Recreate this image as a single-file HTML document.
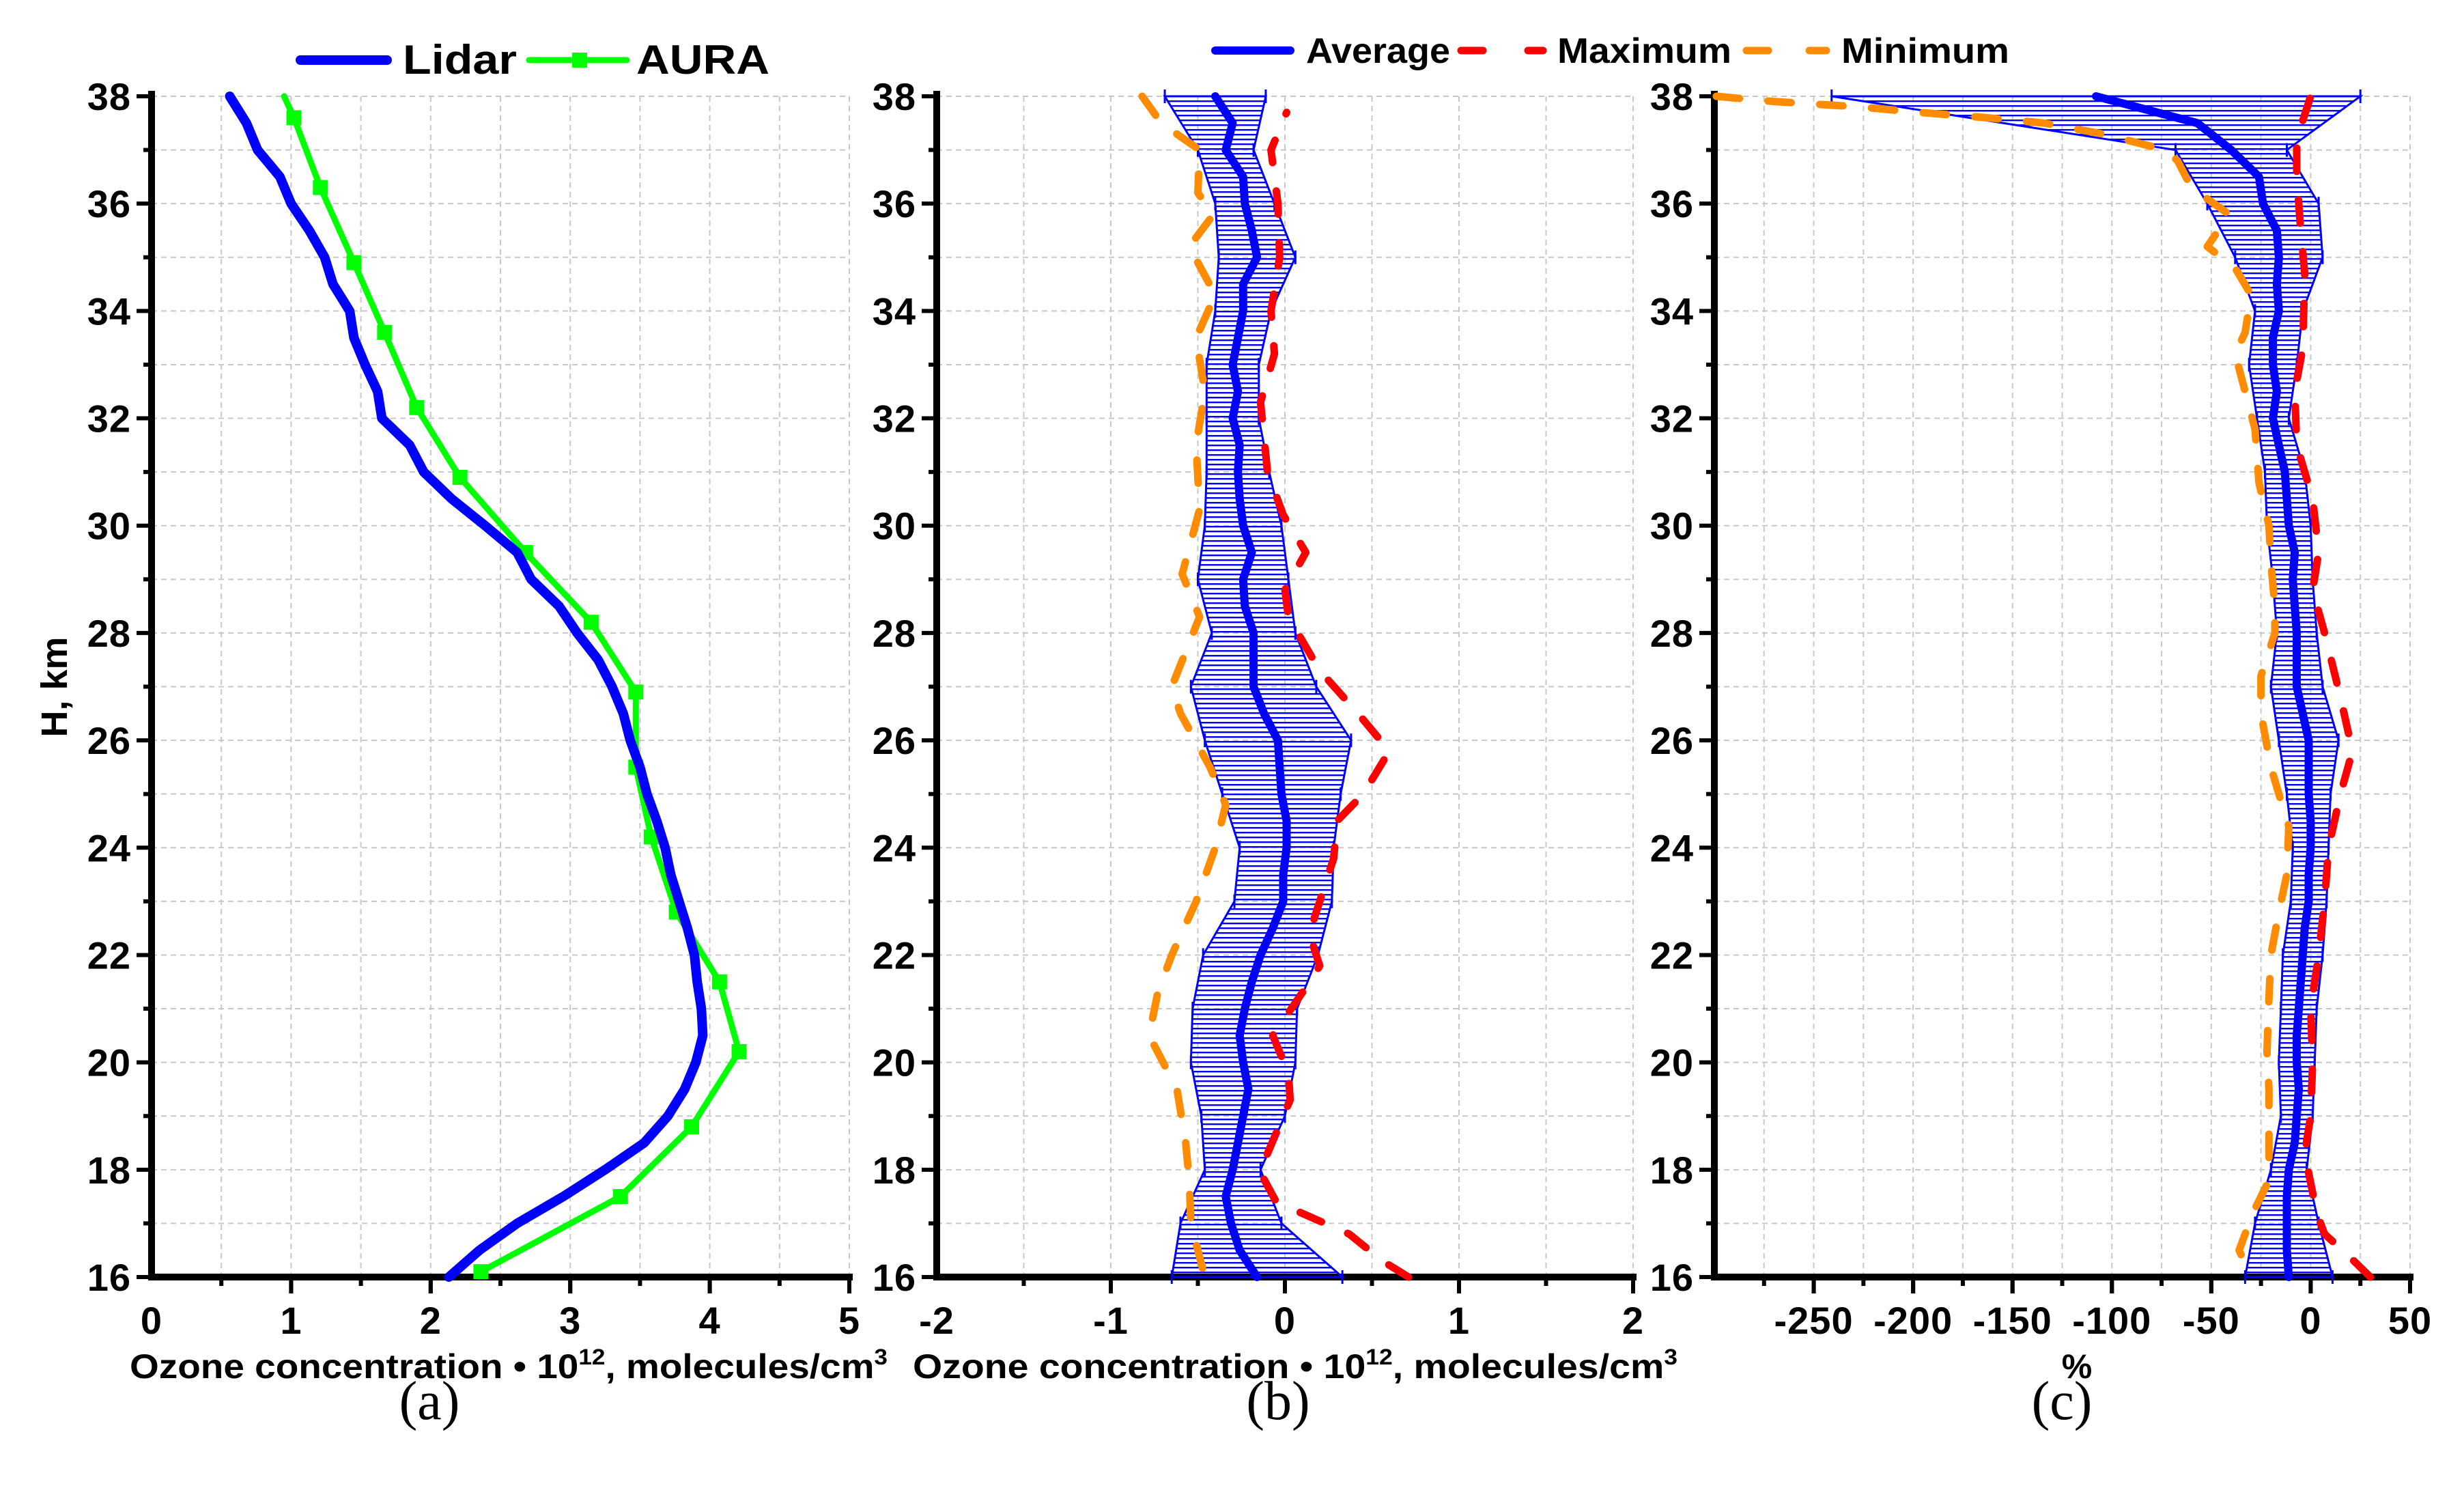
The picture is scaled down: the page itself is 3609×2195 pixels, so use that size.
<!DOCTYPE html>
<html><head><meta charset="utf-8"><style>
html,body{margin:0;padding:0;background:#fff;}
svg{display:block;font-family:"Liberation Sans","DejaVu Sans",sans-serif;}
</style></head><body>
<svg id="fig" width="3609" height="2195" viewBox="0 0 3609 2195" xmlns="http://www.w3.org/2000/svg">
<defs>
<pattern id="hatch" patternUnits="userSpaceOnUse" width="20" height="7"><rect x="0" y="0" width="20" height="2.4" fill="#0000ff"/></pattern>
</defs>
<g id="root"></g>
</svg>
<script>
// ---- data ----
const heights = [38,37.5,37,36.5,36,35.5,35,34.5,34,33.5,33,32.5,32,31.5,31,30.5,30,29.5,29,28.5,28,27.5,27,26.5,26,25.5,25,24.5,24,23.5,23,22.5,22,21.5,21,20.5,20,19.5,19,18.5,18,17.5,17,16.5,16];
const stdHeights = [38,37,36,35,34,33,32,31,30,29,28,27,26,25,24,23,22,21,20,19,18,17,16];
const lidarValues = [0.56,0.68,0.76,0.92,1.0,1.13,1.24,1.3,1.42,1.45,1.53,1.62,1.65,1.85,1.95,2.15,2.39,2.62,2.72,2.92,3.05,3.2,3.3,3.38,3.43,3.5,3.55,3.62,3.68,3.72,3.78,3.84,3.89,3.91,3.94,3.95,3.9,3.82,3.7,3.53,3.25,2.95,2.62,2.35,2.13];
const auraHeights = [38,37.6,36.3,34.9,33.6,32.2,30.9,29.5,28.2,26.9,25.5,24.2,22.8,21.5,20.2,18.8,17.5,16.1];
const auraValues = [0.95,1.02,1.21,1.45,1.67,1.9,2.21,2.68,3.15,3.47,3.47,3.58,3.76,4.07,4.21,3.87,3.36,2.36];
const avgB = [-0.40,-0.30,-0.34,-0.24,-0.23,-0.19,-0.16,-0.24,-0.24,-0.27,-0.30,-0.27,-0.30,-0.26,-0.27,-0.26,-0.24,-0.19,-0.24,-0.23,-0.18,-0.18,-0.18,-0.12,-0.04,-0.03,-0.02,0.01,0.01,-0.01,-0.01,-0.07,-0.14,-0.19,-0.23,-0.26,-0.24,-0.21,-0.24,-0.27,-0.30,-0.34,-0.31,-0.26,-0.16];
const stdB = [0.29,0.16,0.17,0.22,0.16,0.15,0.15,0.18,0.22,0.26,0.24,0.36,0.42,0.34,0.27,0.28,0.33,0.30,0.30,0.24,0.16,0.29,0.49];
const maxBHeights = [16,16.3,16.8,17.4,18,18.3,19.3,19.8,20.5,21.3,21.8,22.4,23,23.8,24.5,25,25.8,26.5,27.3,28.3,28.8,29.5,30.2,31,32.3,33.2,34,35,36,37,37.7];
const maxBValues = [0.71,0.56,0.37,-0.05,-0.15,-0.1,0.03,0.02,-0.07,0.1,0.2,0.14,0.2,0.28,0.3,0.45,0.6,0.42,0.2,0.02,0.0,0.12,-0.01,-0.1,-0.14,-0.06,-0.08,-0.03,-0.04,-0.08,0.01];
const minBHeights = [38,37.5,37,36.2,35.8,35.2,34.3,33.5,32.5,31.5,30.3,29.1,28.3,27,26.5,25.5,24.8,24,23,22,21.3,20.5,19.5,18.5,17.8,17,16];
const minBValues = [-0.82,-0.71,-0.49,-0.5,-0.41,-0.55,-0.4,-0.51,-0.46,-0.51,-0.49,-0.59,-0.49,-0.65,-0.6,-0.43,-0.34,-0.4,-0.51,-0.65,-0.73,-0.78,-0.62,-0.57,-0.55,-0.54,-0.46];
const avgC = [-108,-57,-40,-26,-24,-17,-16,-17,-16,-19,-19,-17,-19,-16,-13,-12,-11,-8,-9,-8,-7,-7,-7,-4,-1,-1,-1,0,0,-1,-1,-3,-4,-5,-6,-7,-7,-6,-7,-8,-11,-12,-12,-12,-11];
const stdC = [133,28,28,22,12,12,8,10,11,10,10,13,15,11,9,9,10,9,9,8,9,16,22];
const maxCHeights = [16,16.4,16.8,17.2,18.3,19,20,21,22,23,24,25,25.8,26.8,28,28.8,29.5,30.5,31.5,32.5,33.3,34.7,35.5,36.5,37.2,38];
const maxCValues = [30,19,7,3,-3,0,1,0,4,7,9,15,21,15,7,1,4,1,-7,-8,-4,-3,-5,-7,-7,0];
const minCHeights = [38,37.9,37.8,37.7,37.6,37.5,37.3,37,36.8,36.3,35.8,35.2,34.8,34.3,33.6,33.2,32.5,31.8,30.8,30,29.3,28.5,28,27.2,26.5,25.5,25,24.4,23.5,22.8,22,21.2,20.2,19.5,18.5,17.8,17.2,16.5,16];
const minCValues = [-299,-269,-226,-197,-163,-134,-105,-73,-67,-60,-41,-52,-38,-30,-33,-38,-33,-28,-26,-21,-20,-18,-18,-25,-25,-20,-16,-11,-12,-16,-20,-21,-22,-21,-21,-21,-29,-36,-30];
const yTickLabels = ["16","18","20","22","24","26","28","30","32","34","36","38"];
const xTicksA = ["0","1","2","3","4","5"];
const xTicksB = ["-2","-1","0","1","2"];
const xTicksC = ["-250","-200","-150","-100","-50","0","50"];

// ---- layout ----
const NS = "http://www.w3.org/2000/svg";
const root = document.getElementById('root');
const Y38 = 141, Y16 = 1870;
function yS(h){ return Y38 + (38 - h) / 22 * (Y16 - Y38); }
const P = {
  a:{x0:222,x1:1244,xmin:0,xmax:5,minorStep:0.5},
  b:{x0:1372,x1:2392,xmin:-2,xmax:2,minorStep:0.5},
  c:{x0:2511,x1:3530,xmin:-300,xmax:50,minorStep:25}
};
function xS(p,v){ return p.x0 + (v - p.xmin) / (p.xmax - p.xmin) * (p.x1 - p.x0); }
function el(tag, attrs, parent){
  const e = document.createElementNS(NS, tag);
  for (const k in attrs) e.setAttribute(k, attrs[k]);
  (parent || root).appendChild(e);
  return e;
}
function txt(s, attrs, parent){ const t = el('text', attrs, parent); t.textContent = s; return t; }
function pathFrom(p, hs, vs){
  return hs.map((h,i)=> (i?'L':'M') + xS(p,vs[i]).toFixed(1) + ',' + yS(h).toFixed(1)).join(' ');
}

function drawFrame(key, xLabels, name){
  const p = P[key];
  const g = el('g', {});
  
  
  for (let v = p.xmin + p.minorStep; v < p.xmax + 1e-9; v += p.minorStep) {
    const x = xS(p, v);
    const l = el('line', {x1:x, x2:x, y1:Y38, y2:Y16, stroke:'#c8c8c8', 'stroke-width':2, 'stroke-dasharray':'8 6'}, g);
    
    
  }
  for (let h = 17; h <= 38; h++) {
    const y = yS(h);
    const l = el('line', {x1:p.x0, x2:p.x1, y1:y, y2:y, stroke:'#c8c8c8', 'stroke-width':2, 'stroke-dasharray':'8 6'}, g);
    
    
  }
  for (let h = 16; h <= 38; h++) {
    const y = yS(h);
    const major = h % 2 === 0;
    el('line', {x1:p.x0 - (major ? 22 : 12), x2:p.x0, y1:y, y2:y, stroke:'#000', 'stroke-width':6}, g);
  }
  yTickLabels.forEach((s)=>{
    const t = txt(s, {x:p.x0 - 30, y:yS(+s) + 20, 'text-anchor':'end', 'font-size':56, 'font-weight':'bold', 'letter-spacing':1}, g);
    
    
  });
  for (let v = p.xmin + p.minorStep; v < p.xmax + 1e-9; v += p.minorStep) {
    const x = xS(p, v);
    const isMajor = xLabels.indexOf(String(Math.round(v*1000)/1000)) >= 0;
    el('line', {x1:x, x2:x, y1:Y16, y2:Y16 + (isMajor ? 24 : 13), stroke:'#000', 'stroke-width':6}, g);
  }
  xLabels.forEach((s)=>{
    const x = xS(p, +s);
    if (+s !== p.xmin) el('line', {x1:x, x2:x, y1:Y16, y2:Y16 + 24, stroke:'#000', 'stroke-width':6}, g);
    const t = txt(s, {x:x, y:1953, 'text-anchor':'middle', 'font-size':56, 'font-weight':'bold', 'letter-spacing':1}, g);
    
    
  });
  const ax = el('path', {d:`M${p.x0},${Y38-3} L${p.x0},${Y16} L${p.x1},${Y16}`, fill:'none', stroke:'#000', 'stroke-width':10, 'stroke-linecap':'square'}, g);
  
  
  return g;
}

function drawBand(p, avg, std, name){
  const left = [], right = [];
  stdHeights.forEach((h,i)=>{
    const a = avg[heights.indexOf(h)];
    left.push(xS(p, a - std[i]).toFixed(1) + ',' + yS(h).toFixed(1));
    right.push(xS(p, a + std[i]).toFixed(1) + ',' + yS(h).toFixed(1));
  });
  const pts = left.concat(right.reverse()).join(' ');
  const poly = el('polygon', {points:pts, fill:'url(#hatch)', stroke:'#0000ff', 'stroke-width':3});
  
  
  stdHeights.forEach((h,i)=>{
    const a = avg[heights.indexOf(h)];
    const y = yS(h);
    [a - std[i], a + std[i]].forEach(v=>{
      const c = el('line', {x1:xS(p,v), x2:xS(p,v), y1:y-10, y2:y+10, stroke:'#0000ff', 'stroke-width':3});
      
      
    });
  });
}

function line(p, hs, vs, color, width, dash, name){
  const attrs = {d:pathFrom(p, hs, vs), fill:'none', stroke:color, 'stroke-width':width, 'stroke-linejoin':'round', 'stroke-linecap':'round'};
  if (dash) attrs['stroke-dasharray'] = dash;
  const e = el('path', attrs);
  
  
  return e;
}

// ---- Panel a ----
drawFrame('a', xTicksA, 'panel-a');
line(P.a, auraHeights, auraValues, '#00ff00', 9, null, 'aura-line');
auraHeights.forEach((h,i)=>{
  if (i === 0) return;
  const m = el('rect', {x:xS(P.a, auraValues[i]) - 11, y:yS(h) - 11, width:22, height:22, fill:'#00ff00'});
  
  
});
line(P.a, heights, lidarValues, '#0000ff', 14, null, 'lidar-line');

// ---- Panel b ----
drawFrame('b', xTicksB, 'panel-b');
drawBand(P.b, avgB, stdB, 'error-band-b');
line(P.b, maxBHeights, maxBValues, '#ff0000', 11, '34 42', 'maximum-line-b');
line(P.b, minBHeights, minBValues, '#ff8c00', 11, '34 42', 'minimum-line-b');
line(P.b, heights, avgB, '#0000ff', 12, null, 'average-line-b');

// ---- Panel c ----
drawFrame('c', xTicksC, 'panel-c');
drawBand(P.c, avgC, stdC, 'error-band-c');
line(P.c, maxCHeights, maxCValues, '#ff0000', 11, '34 42', 'maximum-line-c');
line(P.c, minCHeights, minCValues, '#ff8c00', 11, '34 42', 'minimum-line-c');
line(P.c, heights, avgC, '#0000ff', 12, null, 'average-line-c');

// ---- titles ----
let t;
t = txt('H, km', {x:0, y:0, transform:'translate(98,1006) rotate(-90)', 'text-anchor':'middle', 'font-size':54, 'font-weight':'bold'});



function ozoneTitle(x0, x1, name){
  const g = el('text', {x:x0, y:2018, 'font-size':50, 'font-weight':'bold', textLength:(x1-x0), lengthAdjust:'spacingAndGlyphs'});
  
  
  g.innerHTML = 'Ozone concentration \u2022 10<tspan dy="-20" font-size="32">12</tspan><tspan dy="20">, molecules/cm</tspan><tspan dy="-20" font-size="32">3</tspan>';
}
ozoneTitle(190, 1300, 'x-axis-title-a');
ozoneTitle(1337, 2457, 'x-axis-title-b');
t = txt('%', {x:3042, y:2018, 'text-anchor':'middle', 'font-size':50, 'font-weight':'bold'});



[['(a)',629],['(b)',1872],['(c)',3020]].forEach(([s,x])=>{
  const c = txt(s, {x:x, y:2078, 'text-anchor':'middle', 'font-size':80, 'font-family':'"Liberation Serif", serif'});
  
  
});

// ---- legends ----
const lg1 = el('g', {});


el('line', {x1:440, x2:567, y1:88, y2:88, stroke:'#0000ff', 'stroke-width':14, 'stroke-linecap':'round'}, lg1);
t = txt('Lidar', {x:590, y:108, 'font-size':60, 'font-weight':'bold', textLength:167, lengthAdjust:'spacingAndGlyphs'}, lg1);


el('line', {x1:775, x2:918, y1:88, y2:88, stroke:'#00ff00', 'stroke-width':9, 'stroke-linecap':'round'}, lg1);
el('rect', {x:838, y:77, width:22, height:22, fill:'#00ff00'}, lg1);
t = txt('AURA', {x:932, y:108, 'font-size':60, 'font-weight':'bold', textLength:195, lengthAdjust:'spacingAndGlyphs'}, lg1);



const lg2 = el('g', {});


el('line', {x1:1780, x2:1890, y1:74, y2:74, stroke:'#0000ff', 'stroke-width':12, 'stroke-linecap':'round'}, lg2);
t = txt('Average', {x:1913, y:92, 'font-size':52, 'font-weight':'bold', textLength:211, lengthAdjust:'spacingAndGlyphs'}, lg2);


el('line', {x1:2140, x2:2172, y1:74, y2:74, stroke:'#ff0000', 'stroke-width':11, 'stroke-linecap':'round'}, lg2);
el('line', {x1:2238, x2:2260, y1:74, y2:74, stroke:'#ff0000', 'stroke-width':11, 'stroke-linecap':'round'}, lg2);
t = txt('Maximum', {x:2281, y:92, 'font-size':52, 'font-weight':'bold', textLength:255, lengthAdjust:'spacingAndGlyphs'}, lg2);


el('line', {x1:2558, x2:2590, y1:74, y2:74, stroke:'#ff8c00', 'stroke-width':11, 'stroke-linecap':'round'}, lg2);
el('line', {x1:2650, x2:2675, y1:74, y2:74, stroke:'#ff8c00', 'stroke-width':11, 'stroke-linecap':'round'}, lg2);
t = txt('Minimum', {x:2697, y:92, 'font-size':52, 'font-weight':'bold', textLength:246, lengthAdjust:'spacingAndGlyphs'}, lg2);


</script>
</body></html>
